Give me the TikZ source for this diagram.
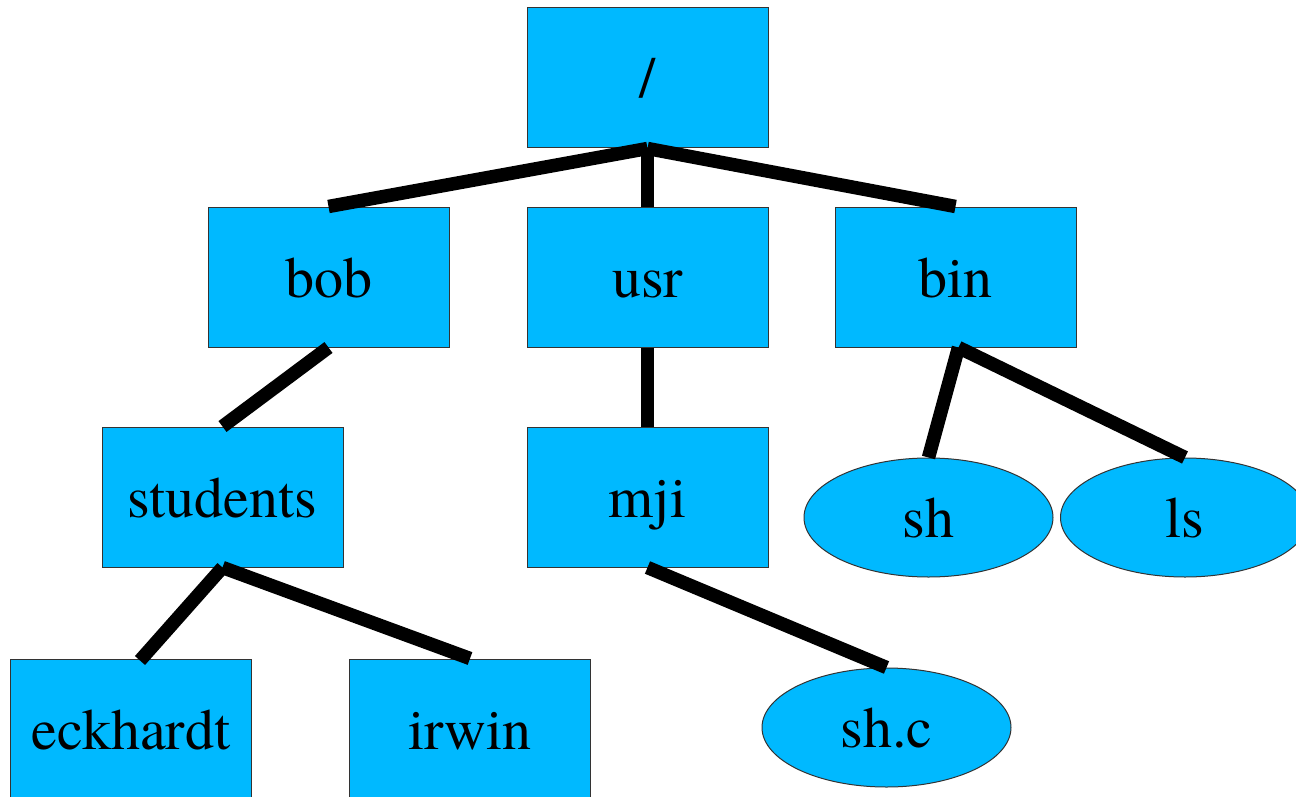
\documentclass[tikz,border=0pt]{standalone}
\usepackage{fontspec}
\setmainfont{TeX Gyre Termes}
\usetikzlibrary{shapes.geometric}
\definecolor{dirblue}{HTML}{00B9FF}
\definecolor{edgegray}{HTML}{333333}
\tikzset{
  base/.style={fill=dirblue, draw=edgegray, line width=1pt, inner sep=0pt,
    text height=40pt, text depth=0pt, font=\fontsize{58}{62}\selectfont},
  dirbox/.style={base, rectangle, minimum width=241pt, minimum height=140pt},
  filenode/.style={base, ellipse, minimum width=249pt, minimum height=119pt},
  link/.style={line width=13.5pt, line cap=butt, black}
}
\begin{document}
\begin{tikzpicture}[x=1pt, y=-1pt]
\useasboundingbox (0,0) rectangle (1296,797);
\clip (0,0) rectangle (1296,797);
\node[dirbox] (root) at (647.5,78) {/};
\node[dirbox] (bob) at (328.5,277) {bob};
\node[dirbox] (usr) at (647.5,277) {usr};
\node[dirbox] (bin) at (955.5,277) {bin};
\node[dirbox] (students) at (222.5,497) {students};
\node[dirbox] (mji) at (647.5,497) {mji};
\node[dirbox] (eck) at (131,729) {eckhardt};
\node[dirbox] (irwin) at (470,729) {irwin};
\node[filenode] (sh) at (928.5,517.5) {sh};
\node[filenode] (ls) at (1185,517.5) {ls};
\node[filenode] (shc) at (886.5,727.5) {sh.c};
\draw[link] (root.south) -- (bob.north);
\draw[link] (root.south) -- (usr.north);
\draw[link] (root.south) -- (bin.north);
\draw[link] (bob.south) -- (students.north);
\draw[link] (usr.south) -- (mji.north);
\draw[link] ([xshift=3pt]bin.south) -- (sh.north);
\draw[link] ([xshift=3pt]bin.south) -- (ls.north);
\draw[link] (students.south) -- ([xshift=9pt,yshift=-2pt]eck.north);
\draw[link] (students.south) -- (irwin.north);
\draw[link] (mji.south) -- (shc.north);
\end{tikzpicture}
\end{document}
